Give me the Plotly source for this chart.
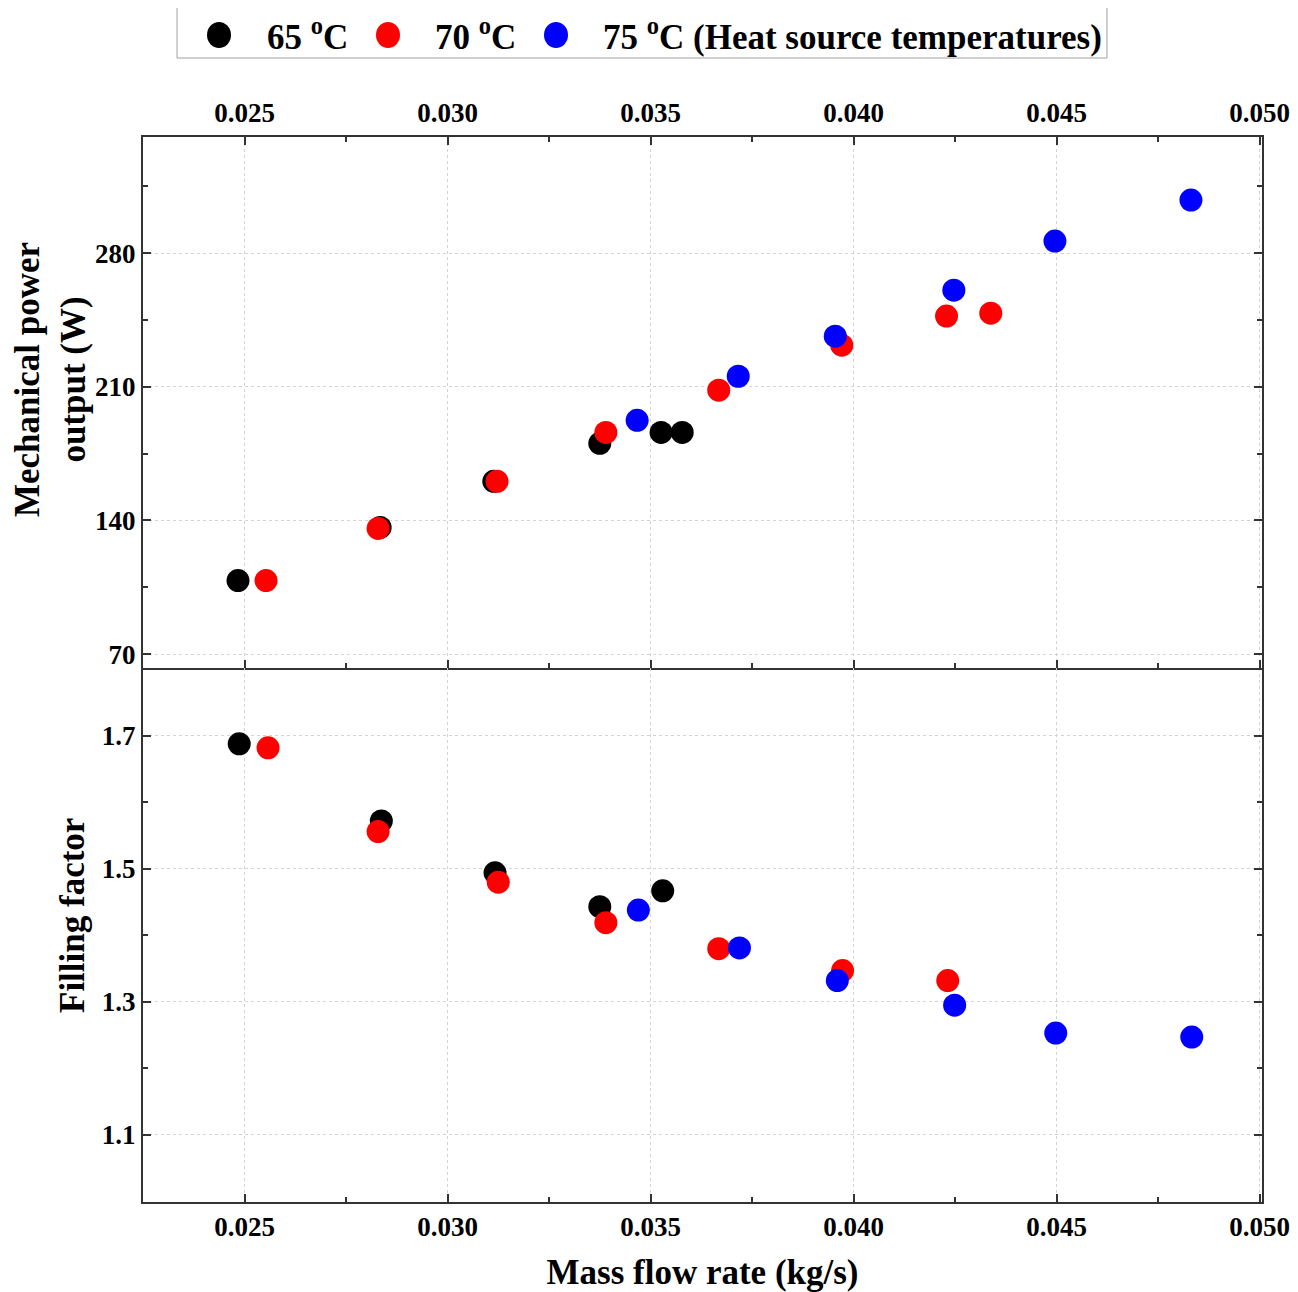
import plotly.graph_objects as go

# Mechanical power output (top panel)
p65_x = [0.02484, 0.02834, 0.03114, 0.03375, 0.03526, 0.03578]
p65_y = [108.5, 136.3, 160.5, 180.4, 186.1, 186.1]
p70_x = [0.02553, 0.02829, 0.03122, 0.03390, 0.03668, 0.03971, 0.04229, 0.04338]
p70_y = [108.5, 135.8, 160.5, 186.1, 208.2, 231.8, 247.0, 248.5]
p75_x = [0.03467, 0.03716, 0.03955, 0.04247, 0.04496, 0.04831]
p75_y = [192.4, 215.5, 236.5, 260.6, 286.3, 307.8]

# Filling factor (bottom panel)
f65_x = [0.02487, 0.02837, 0.03117, 0.03375, 0.03530]
f65_y = [1.688, 1.572, 1.494, 1.443, 1.467]
f70_x = [0.02558, 0.02829, 0.03125, 0.03390, 0.03668, 0.03973, 0.04232]
f70_y = [1.682, 1.556, 1.480, 1.419, 1.380, 1.347, 1.332]
f75_x = [0.03470, 0.03719, 0.03960, 0.04249, 0.04498, 0.04833]
f75_y = [1.438, 1.381, 1.332, 1.295, 1.253, 1.247]

names = ["65 <sup>o</sup>C", "70 <sup>o</sup>C", "75 <sup>o</sup>C (Heat source temperatures)"]
colors = ["#000000", "#ff0000", "#0000ff"]

x_ticks = [0.025, 0.030, 0.035, 0.040, 0.045, 0.050]
x_tick_text = ["0.025", "0.030", "0.035", "0.040", "0.045", "0.050"]
p_ticks = [70, 140, 210, 280]
f_ticks = [1.1, 1.3, 1.5, 1.7]

FONT = "Liberation Serif"
fig = go.Figure()

top_sets = [(p65_x, p65_y), (p70_x, p70_y), (p75_x, p75_y)]
bot_sets = [(f65_x, f65_y), (f70_x, f70_y), (f75_x, f75_y)]
for i, (xs, ys) in enumerate(top_sets):
    fig.add_trace(go.Scatter(x=xs, y=ys, mode="markers", name=names[i],
                             marker=dict(color=colors[i], size=23, line=dict(width=0)),
                             xaxis="x", yaxis="y", showlegend=False))
for i, (xs, ys) in enumerate(bot_sets):
    fig.add_trace(go.Scatter(x=xs, y=ys, mode="markers", name=names[i],
                             marker=dict(color=colors[i], size=23, line=dict(width=0)),
                             xaxis="x2", yaxis="y2", showlegend=False))

# plot area in paper: left 135, right 1298-44, top 129, bottom 1292-98
L, R, T, B = 135, 44, 129, 98
W, H = 1298, 1292
PW, PH = W - L - R, H - T - B


def px_to_paper(sx, sy):
    # screen coords (body offset 8px) -> paper coords
    fx, fy = sx - 8, sy - 8
    return (fx - L) / PW, 1 - (fy - T) / PH


# manual legend (box, dots, labels)
bx0, by0 = px_to_paper(177, 7)
bx1, by1 = px_to_paper(1107, 58)
shapes = [dict(type="rect", xref="paper", yref="paper", x0=bx0, x1=bx1, y0=by1, y1=by0,
               line=dict(color="#a0a0a0", width=1), fillcolor="white", layer="above")]
annotations = []
dot_x = [219, 388, 556]
text_x = [265, 433, 601]
for i in range(3):
    dx, dy = px_to_paper(dot_x[i], 35)
    shapes.append(dict(type="circle", xref="paper", yref="paper",
                       xsizemode="pixel", ysizemode="pixel", xanchor=dx, yanchor=dy,
                       x0=-12, x1=12, y0=-13, y1=13,
                       fillcolor=colors[i], line=dict(width=0), layer="above"))
    tx, ty = px_to_paper(text_x[i], 35)
    annotations.append(dict(xref="paper", yref="paper", x=tx, y=ty, xanchor="left",
                            yanchor="middle", showarrow=False, text=names[i],
                            font=dict(family=FONT, size=35, color="black", weight="bold")))

titlefont = dict(family=FONT, size=35, color="black", weight="bold")
# y-axis titles as rotated annotations
ax, ay = px_to_paper(50, 380)
annotations.append(dict(xref="paper", yref="paper", x=ax, y=ay, xanchor="center",
                        yanchor="middle", showarrow=False, textangle=-90,
                        text="Mechanical power<br>output (W)", font=titlefont))
ax, ay = px_to_paper(72, 916)
annotations.append(dict(xref="paper", yref="paper", x=ax, y=ay, xanchor="center",
                        yanchor="middle", showarrow=False, textangle=-90,
                        text="Filling factor", font=titlefont))

tickfont = dict(family=FONT, size=27, color="black", weight="bold")
grid = dict(showgrid=True, gridcolor="#d3d3d3", griddash="dot", gridwidth=1)
common = dict(showline=True, linecolor="#333333", linewidth=2, ticks="inside",
              ticklen=8, tickwidth=2, tickcolor="#333333", zeroline=False, **grid)
minor_style = dict(ticks="inside", ticklen=5, tickwidth=2, tickcolor="#333333", showgrid=False)

fig.update_layout(
    width=W, height=H,
    paper_bgcolor="white", plot_bgcolor="white",
    margin=dict(l=L, r=R, t=T, b=B, autoexpand=False),
    showlegend=False,
    shapes=shapes, annotations=annotations,
    xaxis=dict(domain=[0, 1], anchor="y", range=[0.0225, 0.05006], side="top",
               tickvals=x_ticks, ticktext=x_tick_text, tickfont=tickfont, mirror="ticks",
               ticklabelstandoff=2,
               minor=dict(tick0=0.0225, dtick=0.005, **minor_style),
               **common),
    yaxis=dict(domain=[0.5014, 1], anchor="x", range=[62.7, 340.8],
               tickvals=p_ticks, tickfont=tickfont, mirror="ticks",
               minor=dict(tick0=105, dtick=70, **minor_style),
               **common),
    xaxis2=dict(domain=[0, 1], anchor="y2", range=[0.0225, 0.05006], side="bottom",
                tickvals=x_ticks, ticktext=x_tick_text, tickfont=tickfont, mirror=False,
                minor=dict(tick0=0.0225, dtick=0.005, **minor_style),
                title=dict(text="Mass flow rate (kg/s)", font=titlefont, standoff=18),
                **common),
    yaxis2=dict(domain=[0, 0.5014], anchor="x2", range=[0.999, 1.802],
                tickvals=f_ticks, tickfont=tickfont, mirror="ticks",
                minor=dict(tick0=1.2, dtick=0.2, **minor_style),
                **common),
)

fig.write_html("out.html")
